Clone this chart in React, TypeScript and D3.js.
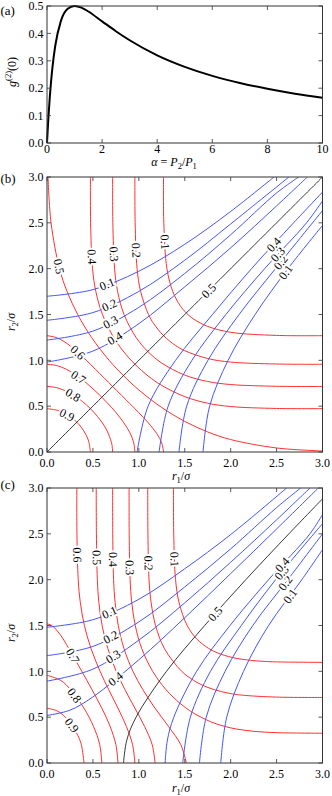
import React from "react";
import * as d3 from "d3";

type Pt = [number, number];

// panel (a): g2(0) against alpha
const alphaVals = [0, 0.02, 0.05, 0.1, 0.15, 0.2, 0.3, 0.5, 0.75, 1, 1.25, 1.5, 2, 2.5, 3, 4, 5, 6, 7, 8, 9, 10];
const g2Vals = [0, 0.038, 0.091, 0.165, 0.227, 0.278, 0.355, 0.444, 0.49, 0.5, 0.494, 0.48, 0.444, 0.408, 0.375, 0.32, 0.278, 0.245, 0.219, 0.198, 0.18, 0.165];
const aXTicks = [0, 2, 4, 6, 8, 10];
const aYTicks = [0, 0.1, 0.2, 0.3, 0.4, 0.5];
const rTicks = [0, 0.5, 1, 1.5, 2, 2.5, 3];

const redLevels = ["0.1", "0.2", "0.3", "0.4", "0.5", "0.6", "0.7", "0.8", "0.9"];
const blueLevels = ["0.1", "0.2", "0.3", "0.4"];

// panel (b) red contours, levels 0.1 .. 0.9
const bRed: Pt[][] = [
  [[1.269, 3], [1.272, 2.5], [1.306, 2], [1.37, 1.75], [1.448, 1.6], [1.517, 1.517], [1.6, 1.448], [1.75, 1.37], [2, 1.306], [2.5, 1.272], [3, 1.269]],
  [[0.957, 3], [0.96, 2.5], [0.981, 2], [1.02, 1.75], [1.105, 1.5], [1.162, 1.4], [1.269, 1.269], [1.4, 1.162], [1.5, 1.105], [1.75, 1.02], [2, 0.981], [2.5, 0.96], [3, 0.957]],
  [[0.715, 3], [0.717, 2.5], [0.736, 2], [0.769, 1.75], [0.839, 1.5], [0.97, 1.25], [1.097, 1.097], [1.25, 0.97], [1.5, 0.839], [1.75, 0.769], [2, 0.736], [2.5, 0.717], [3, 0.715]],
  [[0.473, 3], [0.475, 2.5], [0.496, 2], [0.532, 1.75], [0.604, 1.5], [0.726, 1.25], [0.83, 1.1], [0.957, 0.957], [1.1, 0.83], [1.25, 0.726], [1.5, 0.604], [1.75, 0.532], [2, 0.496], [2.5, 0.475], [3, 0.473]],
  [[0.011, 3], [0.044, 2.5], [0.136, 2], [0.219, 1.75], [0.334, 1.5], [0.485, 1.25], [0.677, 1], [0.833, 0.833], [1, 0.677], [1.25, 0.485], [1.5, 0.334], [1.75, 0.219], [2, 0.136], [2.5, 0.044], [3, 0.011]],
  [[0, 1.269], [0.1, 1.249], [0.194, 1.2], [0.322, 1.1], [0.429, 1], [0.53, 0.9], [0.715, 0.715], [0.9, 0.53], [1, 0.429], [1.1, 0.322], [1.2, 0.194], [1.249, 0.1], [1.269, 0]],
  [[0, 0.957], [0.1, 0.944], [0.215, 0.9], [0.369, 0.8], [0.489, 0.7], [0.597, 0.597], [0.7, 0.489], [0.8, 0.369], [0.9, 0.215], [0.944, 0.1], [0.957, 0]],
  [[0, 0.715], [0.1, 0.703], [0.239, 0.65], [0.321, 0.6], [0.387, 0.55], [0.473, 0.473], [0.55, 0.387], [0.6, 0.321], [0.65, 0.239], [0.703, 0.1], [0.715, 0]],
  [[0, 0.473], [0.13, 0.45], [0.231, 0.4], [0.298, 0.35], [0.325, 0.325], [0.35, 0.298], [0.4, 0.231], [0.45, 0.13], [0.473, 0]],
];
// panel (b) blue contours, upper-left and lower-right branches, levels 0.1 .. 0.4
const bBlueUp: Pt[][] = [
  [[0, 1.699], [0.5, 1.771], [1, 1.972], [1.5, 2.266], [2, 2.624], [2.472, 3]],
  [[0, 1.437], [0.5, 1.521], [1, 1.752], [1.5, 2.092], [2, 2.488], [2.634, 3]],
  [[0, 1.221], [0.5, 1.319], [1, 1.578], [1.5, 1.948], [2, 2.37], [2.5, 2.826], [2.74, 3]],
  [[0, 0.981], [0.5, 1.101], [1, 1.4], [1.5, 1.802], [2, 2.227], [2.5, 2.685], [2.835, 3]],
];
const bBlueLow: Pt[][] = [
  [[1.699, 0], [1.771, 0.5], [1.972, 1], [2.266, 1.5], [2.624, 2], [3, 2.472]],
  [[1.437, 0], [1.521, 0.5], [1.752, 1], [2.092, 1.5], [2.488, 2], [3, 2.634]],
  [[1.221, 0], [1.319, 0.5], [1.578, 1], [1.948, 1.5], [2.37, 2], [2.826, 2.5], [3, 2.74]],
  [[0.981, 0], [1.101, 0.5], [1.4, 1], [1.802, 1.5], [2.227, 2], [2.685, 2.5], [3, 2.835]],
];
const bBlack: Pt[] = [[0, 0], [1.5, 1.5], [3, 3]];

// panel (c)
const cRed: Pt[][] = [
  [[1.377, 3], [1.38, 2.5], [1.4, 2], [1.438, 1.75], [1.526, 1.5], [1.634, 1.35], [1.76, 1.25], [1.859, 1.2], [2.022, 1.15], [2.215, 1.12], [2.342, 1.11], [2.5, 1.103], [3, 1.098]],
  [[1.097, 3], [1.099, 2.5], [1.111, 2], [1.134, 1.75], [1.182, 1.5], [1.278, 1.25], [1.467, 1], [1.599, 0.9], [1.691, 0.85], [1.821, 0.8], [1.985, 0.76], [2.127, 0.74], [2.5, 0.719], [3, 0.715]],
  [[0.894, 3], [0.895, 2.5], [0.905, 2], [0.923, 1.75], [0.961, 1.5], [1.031, 1.25], [1.151, 1], [1.296, 0.8], [1.45, 0.65], [1.587, 0.55], [1.783, 0.45], [1.932, 0.4], [2.067, 0.37], [2.25, 0.346], [2.5, 0.331], [3, 0.325]],
  [[0.715, 3], [0.716, 2.5], [0.725, 2], [0.742, 1.75], [0.776, 1.5], [0.838, 1.25], [0.936, 1], [1.044, 0.8], [1.175, 0.6], [1.322, 0.4], [1.457, 0.2], [1.517, 0]],
  [[0.536, 3], [0.538, 2.5], [0.548, 2], [0.565, 1.75], [0.6, 1.5], [0.662, 1.25], [0.754, 1], [0.849, 0.8], [0.956, 0.6], [1.062, 0.4], [1.145, 0.2], [1.177, 0]],
  [[0.325, 3], [0.326, 2.5], [0.34, 2], [0.363, 1.75], [0.407, 1.5], [0.479, 1.25], [0.578, 1], [0.672, 0.8], [0.772, 0.6], [0.864, 0.4], [0.932, 0.2], [0.957, 0]],
  [[0, 1.517], [0.052, 1.5], [0.144, 1.4], [0.237, 1.25], [0.379, 1], [0.49, 0.8], [0.596, 0.6], [0.687, 0.4], [0.75, 0.2], [0.773, 0]],
  [[0, 0.957], [0.151, 0.9], [0.256, 0.8], [0.401, 0.6], [0.506, 0.4], [0.574, 0.2], [0.597, 0]],
  [[0, 0.597], [0.107, 0.57], [0.2, 0.5], [0.281, 0.4], [0.336, 0.3], [0.374, 0.2], [0.403, 0]],
];
const cBlueUp: Pt[][] = [
  [[0, 1.481], [0.5, 1.563], [1, 1.786], [1.5, 2.119], [2, 2.492], [2.609, 3]],
  [[0, 1.171], [0.5, 1.272], [1, 1.539], [1.5, 1.921], [2, 2.336], [2.5, 2.786], [2.762, 3]],
  [[0, 0.893], [0.5, 1.024], [1, 1.34], [1.5, 1.747], [2, 2.19], [2.5, 2.653], [2.864, 3]],
  [[0, 0.519], [0.25, 0.576], [0.5, 0.721], [1, 1.126], [1.5, 1.585], [2, 2.066], [2.5, 2.553], [2.955, 3]],
];
const cBlueLow: Pt[][] = [
  [[1.892, 0], [1.957, 0.5], [2.14, 1], [2.413, 1.5], [2.775, 2], [3, 2.328]],
  [[1.66, 0], [1.734, 0.5], [1.939, 1], [2.241, 1.5], [2.622, 2], [3, 2.499]],
  [[1.478, 0], [1.561, 0.5], [1.78, 1], [2.116, 1.5], [2.49, 2], [3, 2.611]],
  [[1.286, 0], [1.311, 0.25], [1.381, 0.5], [1.629, 1], [1.993, 1.5], [2.413, 2], [2.863, 2.5], [3, 2.71]],
];
const cBlack: Pt[] = [[0.833, 0], [0.869, 0.25], [0.97, 0.5], [1.301, 1], [1.717, 1.5], [2.165, 2], [2.634, 2.5], [3, 2.882]];

// where the inline labels sit (data coords, snapped onto the line)
const bRedAt: Pt[] = [[1.28, 2.29], [0.98, 2.2], [0.73, 2.16], [0.48, 2.13], [0.11, 2.02], [0.33, 1.08], [0.36, 0.84], [0.27, 0.6], [0.2, 0.37]];
const bUpAt: Pt[] = [[0.65, 1.84], [0.69, 1.58], [0.69, 1.42], [0.745, 1.23]];
const bLowAt: Pt[] = [[2.607, 1.956], [2.523, 2.087], [2.48, 2.185], [2.425, 2.305]];
const bBlackAt: Pt = [1.76, 1.76];
const cRedAt: Pt[] = [[1.37, 2.22], [1.07, 2.18], [0.89, 2.13], [0.71, 2.22], [0.52, 2.24], [0.31, 2.27], [0.3, 1.18], [0.29, 0.73], [0.28, 0.42]];
const cUpAt: Pt[] = [[0.69, 1.62], [0.71, 1.345], [0.74, 1.13], [0.77, 0.89]];
const cLowAt: Pt[] = [[2.633, 1.833], [2.578, 1.978], [2.542, 2.087], [2.506, 2.214]];
const cBlackAt: Pt = [1.84, 1.62];

const L = 47;
const R = 322.5;
const FONT = "'Liberation Serif', 'Times New Roman', serif";
const RED = "#ff3030";
const BLUE = "#4455ff";
const FRAME = "#333";

function snap(pts: Pt[], p: Pt) {
  let best = { d: Infinity, x: 0, y: 0, ang: 0 };
  for (let i = 0; i < pts.length - 1; i++) {
    const [x1, y1] = pts[i];
    const [x2, y2] = pts[i + 1];
    const dx = x2 - x1, dy = y2 - y1;
    const len2 = dx * dx + dy * dy || 1;
    let t = ((p[0] - x1) * dx + (p[1] - y1) * dy) / len2;
    t = Math.max(0, Math.min(1, t));
    const qx = x1 + t * dx, qy = y1 + t * dy;
    const d = (qx - p[0]) ** 2 + (qy - p[1]) ** 2;
    if (d < best.d) {
      let ang = (Math.atan2(dy, dx) * 180) / Math.PI;
      if (ang > 90) ang -= 180;
      if (ang <= -90) ang += 180;
      best = { d, x: qx, y: qy, ang };
    }
  }
  return best;
}

function Ticks({ x, y, xt, yt }: any) {
  const [x0, x1] = x.range();
  const [y0, y1] = y.range();
  const len = 4;
  return (
    <g stroke={FRAME} strokeWidth={0.8}>
      {xt.map((t: number) => (
        <g key={"x" + t}>
          <line x1={x(t)} x2={x(t)} y1={y0} y2={y0 - len} />
          <line x1={x(t)} x2={x(t)} y1={y1} y2={y1 + len} />
        </g>
      ))}
      {yt.map((t: number) => (
        <g key={"y" + t}>
          <line x1={x0} x2={x0 + len} y1={y(t)} y2={y(t)} />
          <line x1={x1} x2={x1 - len} y1={y(t)} y2={y(t)} />
        </g>
      ))}
    </g>
  );
}

function PanelA() {
  const x = d3.scaleLinear().domain([0, 10]).range([L, R]);
  const y = d3.scaleLinear().domain([0, 0.5]).range([143, 6]);
  const pts: Pt[] = alphaVals.map((a, i) => [a, g2Vals[i]]);
  const line = d3.line<Pt>().x((d) => x(d[0])).y((d) => y(d[1])).curve(d3.curveMonotoneX);
  return (
    <g>
      <path d={line(pts) || ""} fill="none" stroke="#000" strokeWidth={2} />
      <Ticks x={x} y={y} xt={aXTicks} yt={aYTicks} />
      <rect x={L} y={6} width={R - L} height={137} fill="none" stroke={FRAME} strokeWidth={1} />
      {aXTicks.map((t) => (
        <text key={t} x={x(t)} y={152.5} textAnchor="middle" fontSize={12}>{t}</text>
      ))}
      {aYTicks.map((t) => (
        <text key={t} x={43.5} y={y(t)} dy="0.35em" textAnchor="end" fontSize={12}>{t.toFixed(1)}</text>
      ))}
      <text x={0.5} y={15} fontSize={13}>(a)</text>
      <text x={174} y={166} textAnchor="middle" fontSize={12}>
        <tspan fontStyle="italic">α</tspan> = <tspan fontStyle="italic">P</tspan>
        <tspan fontSize={8.5} dy={2.5}>2</tspan>
        <tspan dy={-2.5}>/</tspan><tspan fontStyle="italic">P</tspan>
        <tspan fontSize={8.5} dy={2.5}>1</tspan>
      </text>
      <text transform="translate(16,72) rotate(-90)" textAnchor="middle" fontSize={12}>
        <tspan fontStyle="italic">g</tspan>
        <tspan fontSize={8.5} dy={-5}>(2)</tspan>
        <tspan dy={5}>(0)</tspan>
      </text>
    </g>
  );
}

function RPanel(props: any) {
  const { top, tag, tagY, red, up, low, black, redAt, upAt, lowAt, blackAt, tickBase, titleBase, id } = props;
  const bottom = top + 275;
  const x = d3.scaleLinear().domain([0, 3]).range([L, R]);
  const y = d3.scaleLinear().domain([0, 3]).range([bottom, top]);
  const toPx = (pts: Pt[]): Pt[] => pts.map((d) => [x(d[0]), y(d[1])]);
  const line = d3.line<Pt>().curve(d3.curveCatmullRom.alpha(0.5));

  const labels: { txt: string; pts: Pt[]; at: Pt }[] = [];
  red.forEach((c: Pt[], i: number) => labels.push({ txt: redLevels[i], pts: c, at: redAt[i] }));
  up.forEach((c: Pt[], i: number) => labels.push({ txt: blueLevels[i], pts: c, at: upAt[i] }));
  low.forEach((c: Pt[], i: number) => labels.push({ txt: blueLevels[i], pts: c, at: lowAt[i] }));
  labels.push({ txt: "0.5", pts: black, at: blackAt });

  return (
    <g>
      <defs>
        <clipPath id={id}>
          <rect x={L} y={top} width={R - L} height={275} />
        </clipPath>
      </defs>
      <g clipPath={`url(#${id})`} fill="none">
        {red.map((c: Pt[], i: number) => (
          <path key={"r" + i} d={line(toPx(c)) || ""} stroke={RED} strokeWidth={1} />
        ))}
        {up.concat(low).map((c: Pt[], i: number) => (
          <path key={"b" + i} d={line(toPx(c)) || ""} stroke={BLUE} strokeWidth={1} />
        ))}
        <path d={line(toPx(black)) || ""} stroke="#222" strokeWidth={0.9} />
      </g>
      {labels.map((lb, i) => {
        const s = snap(toPx(lb.pts), [x(lb.at[0]), y(lb.at[1])]);
        return (
          <text
            key={"l" + i}
            transform={`translate(${s.x},${s.y}) rotate(${s.ang})`}
            textAnchor="middle"
            dy="0.35em"
            fontSize={12}
            stroke="#fff"
            strokeWidth={4}
            paintOrder="stroke"
            strokeLinejoin="round"
          >
            {lb.txt}
          </text>
        );
      })}
      <Ticks x={x} y={y} xt={rTicks} yt={rTicks} />
      <rect x={L} y={top} width={R - L} height={275} fill="none" stroke={FRAME} strokeWidth={1} />
      {rTicks.map((t) => (
        <text key={"xt" + t} x={x(t)} y={tickBase} textAnchor="middle" fontSize={12}>{t.toFixed(1)}</text>
      ))}
      {rTicks.map((t) => (
        <text key={"yt" + t} x={43.5} y={y(t)} dy="0.35em" textAnchor="end" fontSize={12}>{t.toFixed(1)}</text>
      ))}
      <text x={0.5} y={tagY} fontSize={13}>{tag}</text>
      <text x={181} y={titleBase} textAnchor="middle" fontSize={12}>
        <tspan fontStyle="italic">r</tspan>
        <tspan fontSize={8.5} dy={2.5}>1</tspan>
        <tspan dy={-2.5}>/</tspan>
        <tspan fontStyle="italic">σ</tspan>
      </text>
      <text transform={`translate(15,${top + 145}) rotate(-90)`} textAnchor="middle" fontSize={12}>
        <tspan fontStyle="italic">r</tspan>
        <tspan fontSize={8.5} dy={2.5}>2</tspan>
        <tspan dy={-2.5}>/</tspan>
        <tspan fontStyle="italic">σ</tspan>
      </text>
    </g>
  );
}

export default function App() {
  return (
    <svg
      width={332}
      height={796}
      style={{ position: "absolute", left: 0, top: 0, background: "#fff" }}
      fontFamily={FONT}
    >
      <rect width={332} height={796} fill="#fff" />
      <PanelA />
      <RPanel
        id="clipB" top={177} tag="(b)" tagY={183}
        red={bRed} up={bBlueUp} low={bBlueLow} black={bBlack}
        redAt={bRedAt} upAt={bUpAt} lowAt={bLowAt} blackAt={bBlackAt}
        tickBase={466.5} titleBase={480}
      />
      <RPanel
        id="clipC" top={488} tag="(c)" tagY={489}
        red={cRed} up={cBlueUp} low={cBlueLow} black={cBlack}
        redAt={cRedAt} upAt={cUpAt} lowAt={cLowAt} blackAt={cBlackAt}
        tickBase={778} titleBase={792}
      />
    </svg>
  );
}
